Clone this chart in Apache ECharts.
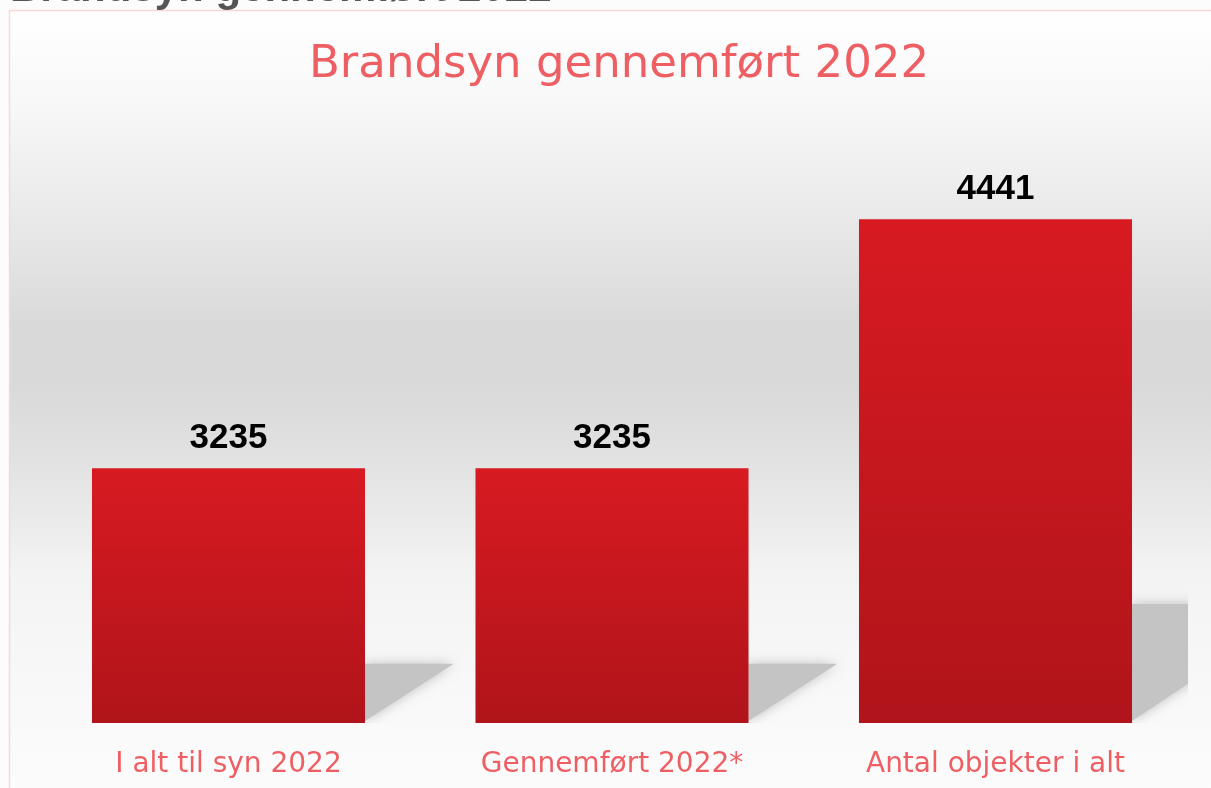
<!DOCTYPE html>
<html>
<head>
<meta charset="utf-8">
<script src="https://cdn.jsdelivr.net/npm/echarts@6/dist/echarts.min.js"></script>
<style>
html,body{margin:0;padding:0;background:#fcfcfc;}
#chart{width:1211px;height:788px;}
</style>
</head>
<body>
<div id="chart"></div>
<script>
var categories = ['I alt til syn 2022', 'Gennemført 2022*', 'Antal objekter i alt'];
var values = [3235, 3235, 4441];
var axisMin = 2000;
var axisMax = 5000;
var chartTitle = 'Brandsyn gennemført 2022';
var headerText = 'Brandsyn gennemført 2022';

var chart = echarts.init(document.getElementById('chart'), null, {renderer: 'canvas'});
var pink = '#ee5f64';
var barRatio = 0.712;

var option = {
  animation: false,
  backgroundColor: 'transparent',
  graphic: [
    {
      type: 'rect', z: -10, silent: true,
      shape: {x: 9.5, y: 10.5, width: 1210, height: 790},
      style: {
        fill: new echarts.graphic.LinearGradient(0, 0, 0, 1, [
          {offset: 0, color: '#ffffff'},
          {offset: 0.116, color: '#f8f8f8'},
          {offset: 0.31, color: '#e4e4e4'},
          {offset: 0.40, color: '#d9d9d9'},
          {offset: 0.47, color: '#d9d9d9'},
          {offset: 0.55, color: '#e0e0e0'},
          {offset: 0.63, color: '#e9e9e9'},
          {offset: 0.71, color: '#f3f3f3'},
          {offset: 0.85, color: '#f8f8f8'},
          {offset: 1, color: '#fcfcfc'}
        ]),
        stroke: '#fbd6d6', lineWidth: 1.5
      }
    },
    {
      type: 'text', z: 10, silent: true,
      x: 10, y: 10,
      style: {
        text: headerText,
        fill: '#555555',
        verticalAlign: 'bottom',
        font: 'bold 42px "Liberation Sans", Arial, sans-serif'
      }
    }
  ],
  title: {
    text: chartTitle,
    left: 304,
    top: 38,
    textStyle: {
      color: pink,
      fontSize: 45,
      fontWeight: 'normal',
      fontFamily: '"DejaVu Sans", sans-serif'
    }
  },
  grid: {left: 36.75, right: 23.75, top: 104, bottom: 65, containLabel: false},
  xAxis: {
    type: 'category',
    data: categories,
    axisLine: {show: false},
    axisTick: {show: false},
    axisLabel: {
      color: pink,
      fontSize: 28,
      lineHeight: 30,
      margin: 27,
      fontFamily: '"DejaVu Sans", sans-serif',
      interval: 0
    }
  },
  yAxis: {
    type: 'value',
    min: axisMin,
    max: axisMax,
    show: false,
    splitLine: {show: false}
  },
  series: [
    {
      type: 'custom',
      z: 1,
      clip: true,
      silent: true,
      data: values.map(function (v, i) { return [i, v]; }),
      renderItem: function (params, api) {
        var idx = api.value(0);
        var v = api.value(1);
        var bottom = api.coord([idx, axisMin]);
        var top = api.coord([idx, v]);
        var bw = api.size([1, 0])[0] * barRatio;
        var xr = bottom[0] + bw / 2;
        var sh = 0.24 * (bottom[1] - top[1]);
        var by = bottom[1];
        return {
          type: 'polygon',
          shape: {points: [[xr, by - sh + 2], [xr + sh * 1.45, by - sh + 2], [xr, by - 2]]},
          style: {fill: '#c4c4c4', shadowBlur: 12, shadowColor: 'rgba(190,190,190,1)'}
        };
      }
    },
    {
      type: 'bar',
      z: 2,
      data: values,
      barWidth: (barRatio * 100) + '%',
      itemStyle: {
        color: new echarts.graphic.LinearGradient(0, 0, 0, 1, [
          {offset: 0, color: '#d81a22'},
          {offset: 1, color: '#b0141a'}
        ])
      },
      label: {
        show: true,
        position: 'top',
        distance: 12,
        color: '#000000',
        fontSize: 35,
        fontWeight: 'bold',
        fontFamily: '"Liberation Sans", Arial, sans-serif'
      }
    }
  ]
};
chart.setOption(option);
</script>
</body>
</html>
